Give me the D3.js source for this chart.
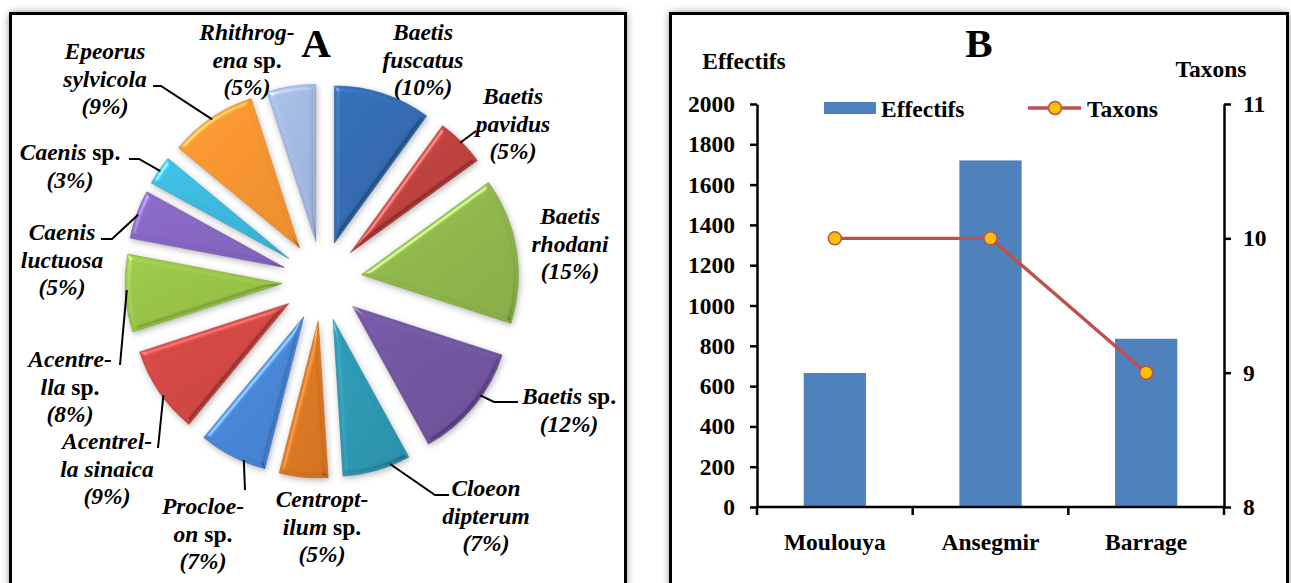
<!DOCTYPE html>
<html><head><meta charset="utf-8">
<script src="https://cdn.jsdelivr.net/npm/d3@7"></script>
<style>
body{margin:0;background:#fff;}
svg{display:block;font-family:"Liberation Serif","Times New Roman",serif;}
</style>
</head><body>
<svg id="c" width="1291" height="583"></svg>
<script>
// ---------- DATA ----------
const taxa = ["Baetis fuscatus","Baetis pavidus","Baetis rhodani","Baetis sp.","Cloeon dipterum",
  "Centroptilum sp.","Procloeon sp.","Acentrella sinaica","Acentrella sp.","Caenis luctuosa",
  "Caenis sp.","Epeorus sylvicola","Rhithrogena sp."];
const percents = [10,5,15,12,7,5,7,9,8,5,3,9,5];
const labelLines = [["Baetis","fuscatus"],["Baetis","pavidus"],["Baetis","rhodani"],["Baetis sp."],
  ["Cloeon","dipterum"],["Centropt-","ilum sp."],["Procloe-","on sp."],["Acentrel-","la sinaica"],
  ["Acentre-","lla sp."],["Caenis","luctuosa"],["Caenis sp."],["Epeorus","sylvicola"],["Rhithrog-","ena sp."]];
const sliceColors = ["#326AB0","#BE423E","#8FB74B","#7255A0","#2D97B2","#DD7822","#4886D8",
  "#D24844","#97C347","#8666C2","#3DB9DE","#F7952F","#A3B9DF"];

const sites = ["Moulouya","Ansegmir","Barrage"];
const effectifs = [665,1720,835];
const taxons = [10,10,9];
const leftTicks = [0,200,400,600,800,1000,1200,1400,1600,1800,2000];
const rightTicks = [8,9,10,11];

// ---------- LAYOUT (not data) ----------
const labelLayout = [
  {x:423,y:40},
  {x:513,y:104,f:0.5,pts:[[476,131]]},
  {x:570,y:224},
  {x:569,y:404,f:0.39,pts:[[494,402],[518,402]]},
  {x:486,y:496,f:0.29,pts:[[435,495],[449,495]]},
  {x:322,y:507},
  {x:203,y:514,f:0.33,pts:[[245,490]]},
  {x:107,y:449,f:0.44,pts:[[158,448]]},
  {x:70,y:367,f:0.54,pts:[[120,365]]},
  {x:62,y:240,f:0.5,pts:[[112,239],[101,239]]},
  {x:70,y:160,f:0.5,pts:[[139,159],[129,159]]},
  {x:105,y:59,f:0.5,pts:[[161,86],[153,86]]},
  {x:247,y:40}
];

const svg = d3.select("#c");
const defs = svg.append("defs");

defs.append("filter").attr("id","pshadow").attr("x","-10%").attr("y","-10%").attr("width","120%").attr("height","120%")
  .append("feGaussianBlur").attr("stdDeviation",4.5);

// bevel + soft shadow filter for slices
const bev = defs.append("filter").attr("id","bevel").attr("color-interpolation-filters","sRGB")
  .attr("x","-20%").attr("y","-20%").attr("width","140%").attr("height","140%");
bev.append("feGaussianBlur").attr("in","SourceAlpha").attr("stdDeviation",2.5).attr("result","b");
const spec = bev.append("feSpecularLighting").attr("in","b").attr("surfaceScale",3)
  .attr("specularConstant",0.9).attr("specularExponent",35).attr("lighting-color","#ffffff").attr("result","s");
spec.append("feDistantLight").attr("azimuth",225).attr("elevation",40);
bev.append("feComposite").attr("in","s").attr("in2","SourceAlpha").attr("operator","in").attr("result","s2");
bev.append("feComposite").attr("in","SourceGraphic").attr("in2","s2").attr("operator","arithmetic")
  .attr("k1",0).attr("k2",1).attr("k3",0.35).attr("k4",0).attr("result","lit");
const spec2 = bev.append("feSpecularLighting").attr("in","b").attr("surfaceScale",3)
  .attr("specularConstant",0.9).attr("specularExponent",35).attr("lighting-color","#ffffff").attr("result","d");
spec2.append("feDistantLight").attr("azimuth",45).attr("elevation",40);
bev.append("feColorMatrix").attr("in","d").attr("type","matrix")
  .attr("values","0 0 0 0 0  0 0 0 0 0  0 0 0 0 0  0 0 0 0.35 0").attr("result","d2");
bev.append("feComposite").attr("in","d2").attr("in2","SourceAlpha").attr("operator","in").attr("result","d3");
bev.append("feComposite").attr("in","d3").attr("in2","lit").attr("operator","over").attr("result","top");
bev.append("feGaussianBlur").attr("in","SourceAlpha").attr("stdDeviation",3).attr("result","sb");
bev.append("feOffset").attr("in","sb").attr("dx",1).attr("dy",2).attr("result","so");
bev.append("feColorMatrix").attr("in","so").attr("type","matrix")
  .attr("values","0 0 0 0 0  0 0 0 0 0  0 0 0 0 0  0 0 0 0.3 0").attr("result","sh");
const mg = bev.append("feMerge");
mg.append("feMergeNode").attr("in","sh");
mg.append("feMergeNode").attr("in","top");

// panels
const panels = [{x:10.5,y:13.5,w:615,h:620},{x:670.5,y:13.5,w:617,h:620}];
panels.forEach(p=>{
  svg.append("rect").attr("x",p.x).attr("y",p.y).attr("width",p.w).attr("height",p.h)
    .attr("fill","#000").attr("opacity",0.6).attr("filter","url(#pshadow)");
});
panels.forEach(p=>{
  svg.append("rect").attr("x",p.x).attr("y",p.y).attr("width",p.w).attr("height",p.h)
    .attr("fill","#fff").attr("stroke","#000").attr("stroke-width",3);
});

// ---------- PANEL A : exploded pie ----------
const cx = 322, cy = 281, R = 157, explode = 40;
const pie = d3.pie().sort(null).value(d=>d)(percents);
const arc = d3.arc().innerRadius(0).outerRadius(R);
const gA = svg.append("g");

sliceColors.forEach((c,i)=>{
  const g = defs.append("linearGradient").attr("id","sg"+i)
    .attr("x1",0).attr("y1",0).attr("x2",0.8).attr("y2",1);
  g.append("stop").attr("offset","0").attr("stop-color",d3.color(c).brighter(0.15));
  g.append("stop").attr("offset","0.5").attr("stop-color",c);
  g.append("stop").attr("offset","1").attr("stop-color",d3.color(c).darker(0.12));
});

function offsetOf(d){
  const a = (d.startAngle+d.endAngle)/2;
  return [cx + explode*Math.sin(a), cy - explode*Math.cos(a)];
}

gA.selectAll("path.slice").data(pie).join("path")
  .attr("class","slice")
  .attr("transform",d=>{const o=offsetOf(d);return `translate(${o[0]},${o[1]})`;})
  .attr("d",arc)
  .attr("fill",(d,i)=>`url(#sg${i})`)
  .attr("stroke",(d,i)=>d3.color(sliceColors[i]).darker(0.4))
  .attr("stroke-width",0.6)
  .attr("filter","url(#bevel)");

// leaders
const line = d3.line();
pie.forEach((d,i)=>{
  const L = labelLayout[i];
  if(!L.pts) return;
  const a = d.startAngle + (d.endAngle-d.startAngle)*L.f;
  const o = offsetOf(d);
  const anchor = [o[0] + R*0.99*Math.sin(a), o[1] - R*0.99*Math.cos(a)];
  gA.append("path").attr("d",line([anchor,...L.pts])).attr("fill","none")
    .attr("stroke","#000").attr("stroke-width",2);
});

// labels
const lh = 27.5;
pie.forEach((d,i)=>{
  const L = labelLayout[i];
  const lines = labelLines[i].concat([`(${percents[i]}%)`]);
  const t = gA.append("text").attr("text-anchor","middle").attr("font-size",23.5)
    .attr("font-weight","bold").attr("fill","#000");
  lines.forEach((ln,k)=>{
    const tl = t.append("tspan").attr("x",L.x).attr("y",L.y+k*lh);
    const parts = ln.split(/(sp\.)/);
    parts.filter(p=>p.length).forEach(p=>{
      tl.append("tspan").attr("font-style", p==="sp." ? "normal" : "italic").text(p);
    });
  });
});

gA.append("text").attr("x",316).attr("y",57).attr("text-anchor","middle")
  .attr("font-size",41).attr("font-weight","bold").text("A");

// ---------- PANEL B : bars + line ----------
const gB = svg.append("g");
const x = d3.scaleBand().domain(sites).range([757,1224]).padding(0);
const yL = d3.scaleLinear().domain([0,2000]).range([507,104]);
const yR = d3.scaleLinear().domain([8,11]).range([507,104]);
const barW = x.bandwidth()*0.4;

gB.selectAll("rect.bar").data(effectifs).join("rect").attr("class","bar")
  .attr("x",(d,i)=>x(sites[i])+x.bandwidth()/2-barW/2)
  .attr("width",barW)
  .attr("y",d=>yL(d)).attr("height",d=>yL(0)-yL(d))
  .attr("fill","#4F81BD");

const fontSz = 23.5;
function styleAxis(g){
  g.select(".domain").attr("stroke","#000").attr("stroke-width",2.5);
  g.selectAll(".tick line").attr("stroke","#000").attr("stroke-width",2.5);
  g.selectAll(".tick text").attr("font-size",fontSz).attr("font-weight","bold")
    .attr("font-family","Liberation Serif, Times New Roman, serif").attr("fill","#000");
}
const axL = gB.append("g").attr("transform","translate(757,0)")
  .call(d3.axisLeft(yL).tickValues(leftTicks).tickSize(7).tickSizeOuter(0).tickPadding(15).tickFormat(d3.format("d")));
styleAxis(axL);
const axR = gB.append("g").attr("transform","translate(1224,0)")
  .call(d3.axisRight(yR).tickValues(rightTicks).tickSize(7).tickSizeOuter(0).tickPadding(12).tickFormat(d3.format("d")));
styleAxis(axR);

gB.append("line").attr("x1",x.range()[0]).attr("x2",x.range()[1]).attr("y1",yL(0)).attr("y2",yL(0))
  .attr("stroke","#000").attr("stroke-width",2.5);
const bounds = sites.map(s=>x(s)).concat([x.range()[1]]);
gB.selectAll("line.xt").data(bounds).join("line").attr("class","xt")
  .attr("x1",d=>d).attr("x2",d=>d).attr("y1",yL(0)).attr("y2",yL(0)+8)
  .attr("stroke","#000").attr("stroke-width",2.5);
gB.selectAll("text.xl").data(sites).join("text").attr("class","xl")
  .attr("x",d=>x(d)+x.bandwidth()/2).attr("y",550).attr("text-anchor","middle")
  .attr("font-size",fontSz).attr("font-weight","bold").text(d=>d);

const lineR = d3.line().x((d,i)=>x(sites[i])+x.bandwidth()/2).y(d=>yR(d));
gB.append("path").attr("d",lineR(taxons)).attr("fill","none").attr("stroke","#C0504D").attr("stroke-width",3.4);
gB.selectAll("circle.pt").data(taxons).join("circle").attr("class","pt")
  .attr("cx",(d,i)=>x(sites[i])+x.bandwidth()/2).attr("cy",d=>yR(d)).attr("r",6.5)
  .attr("fill","#FFC000").attr("stroke","#C0504D").attr("stroke-width",1.5);

gB.append("text").attr("x",979).attr("y",57).attr("text-anchor","middle")
  .attr("font-size",41).attr("font-weight","bold").text("B");
gB.append("text").attr("x",744).attr("y",69).attr("text-anchor","middle")
  .attr("font-size",fontSz).attr("font-weight","bold").text("Effectifs");
gB.append("text").attr("x",1211).attr("y",77).attr("text-anchor","middle")
  .attr("font-size",fontSz).attr("font-weight","bold").text("Taxons");

const leg = gB.append("g");
leg.append("rect").attr("x",824).attr("y",102).attr("width",52).attr("height",12).attr("fill","#4F81BD");
leg.append("text").attr("x",881).attr("y",117).attr("font-size",fontSz).attr("font-weight","bold").text("Effectifs");
leg.append("line").attr("x1",1028).attr("x2",1081).attr("y1",108).attr("y2",108)
  .attr("stroke","#C0504D").attr("stroke-width",3.4);
leg.append("circle").attr("cx",1055).attr("cy",108).attr("r",6.5)
  .attr("fill","#FFC000").attr("stroke","#C0504D").attr("stroke-width",1.5);
leg.append("text").attr("x",1087).attr("y",117).attr("font-size",fontSz).attr("font-weight","bold").text("Taxons");
</script>
</body></html>
